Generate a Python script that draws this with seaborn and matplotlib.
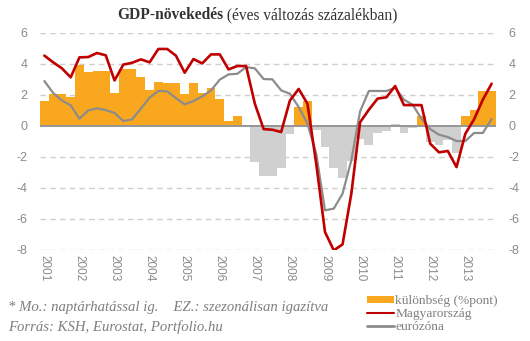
import numpy as np
import pandas as pd
import matplotlib
matplotlib.use("Agg")
import matplotlib.pyplot as plt
import seaborn as sns
from matplotlib.patches import Patch
from matplotlib.lines import Line2D

# ---- data (quarterly, 2001Q1 .. 2013Q4) ----
years = [str(y) for y in range(2001, 2014)]
quarters = [f"{y}Q{q}" for y in range(2001, 2014) for q in range(1, 5)]

diff = [1.57, 2.02, 2.02, 1.83, 3.89, 3.44, 3.50, 3.50, 2.09, 3.63, 3.63, 3.12,
        2.28, 2.80, 2.73, 2.73, 2.02, 2.73, 2.09, 2.41, 1.70, 0.28, 0.60, 0.00,
        -2.34, -3.25, -3.25, -2.73, -0.54, 1.18, 1.57, -0.28, -1.38, -2.73, -3.38, -2.28,
        -0.86, -1.25, -0.47, -0.34, 0.09, -0.47, -0.15, 0.65, -1.05, -1.25, -0.92, -1.76,
        0.60, 0.99, 2.22, 2.22]

hungary = [4.52, 4.09, 3.70, 3.12, 4.41, 4.43, 4.69, 4.54, 2.92, 3.94, 4.06, 4.28,
           4.09, 4.95, 4.95, 4.52, 3.42, 4.30, 4.02, 4.60, 4.60, 3.63, 3.85, 3.85,
           1.42, -0.22, -0.26, -0.41, 1.63, 2.37, 1.42, -2.45, -6.86, -8.04, -7.66, -4.39,
           0.22, 1.03, 1.75, 1.83, 2.56, 1.33, 1.33, 1.33, -1.16, -1.72, -1.63, -2.67,
           -0.52, 0.41, 1.68, 2.71]

eurozone = [2.88, 2.11, 1.63, 1.31, 0.45, 0.99, 1.12, 1.01, 0.82, 0.30, 0.41, 1.10,
            1.81, 2.24, 2.22, 1.78, 1.38, 1.59, 1.89, 2.28, 2.97, 3.31, 3.35, 3.78,
            3.70, 3.01, 2.99, 2.28, 2.06, 1.20, 0.13, -1.81, -5.46, -5.35, -4.39, -2.24,
            0.92, 2.24, 2.24, 2.24, 2.45, 1.68, 1.35, 0.45, -0.22, -0.58, -0.73, -0.99,
            -0.99, -0.47, -0.47, 0.43]

yticks = [6, 4, 2, 0, -2, -4, -6, -8]

title_bold = "GDP-növekedés"
title_rest = " (éves változás százalékban)"
note1 = "* Mo.: naptárhatással ig.    EZ.: szezonálisan igazítva"
note2 = "Forrás: KSH, Eurostat, Portfolio.hu"
leg_labels = ["különbség (%pont)", "Magyarország", "eurózóna"]

ORANGE = "#F8A71E"
LGRAY = "#D0D0D0"
RED = "#C00000"
GLINE = "#8C8C8C"
TXT = "#7F7F7F"

df = pd.DataFrame({"q": quarters, "diff": diff, "hu": hungary, "ez": eurozone})
df["pos"] = np.arange(len(df))
df["sign"] = np.where(df["diff"] > 0.15, "pos", "neg")

sns.set_theme(style="white")
plt.rcParams["font.family"] = ["Liberation Sans", "DejaVu Sans"]

W, H = 530, 341
fig = plt.figure(figsize=(W / 100, H / 100), dpi=100)
ax = fig.add_axes([40 / W, (H - 249.7) / H, (496 - 40) / W, (249.7 - 32.7) / H])

sns.barplot(data=df, x="q", y="diff", hue="sign", order=quarters,
            palette={"pos": ORANGE, "neg": LGRAY}, dodge=False, width=1.0,
            saturation=1, linewidth=0, legend=False, ax=ax, zorder=2)
sns.lineplot(data=df, x="pos", y="ez", color=GLINE, linewidth=1.6, ax=ax, zorder=4)
sns.lineplot(data=df, x="pos", y="hu", color=RED, linewidth=1.9, ax=ax, zorder=5)

ax.set_xlim(-0.5, len(df) - 0.5)
ax.set_ylim(-8, 6)
ax.set_yticks(yticks)
for yv in yticks:
    if yv != 0:
        ax.axhline(yv, color="#CFCFCF", lw=1.0, ls=(0, (4, 3)), zorder=1)
ax.axhline(0, color="#969696", lw=1.4, zorder=3)

for s in ax.spines.values():
    s.set_visible(False)
ax.set_xlabel("")
ax.set_ylabel("")
ax.tick_params(axis="both", length=0)
ax.set_yticklabels([str(v) for v in yticks], color="#8A8A8A", fontsize=9)
ax.tick_params(axis="y", pad=9, labelleft=True, labelright=True)
ax.set_xticks(np.arange(0, len(df), 4))
ax.set_xticklabels(years, rotation=-90, color="#8A8A8A", fontsize=8.5, ha="center", va="top")
ax.tick_params(axis="x", pad=4)

# title
serif = ["Liberation Serif", "DejaVu Serif"]
t1 = fig.text(0.5, 1 - 15 / H, title_bold, fontsize=11.2, fontweight="bold",
              family=serif, color="#333333", ha="right", va="center")
fig.canvas.draw()
bb1 = t1.get_window_extent()
t2 = fig.text(0.5, 1 - 15 / H, title_rest, fontsize=11.2, family=serif,
              color="#333333", ha="left", va="center")
bb2 = t2.get_window_extent()
total = bb1.width + bb2.width
start = 257 - total / 2
t1.set_position(((start + bb1.width) / W, 1 - 15 / H))
t2.set_position(((start + bb1.width) / W, 1 - 15 / H))

# notes
fig.text(8 / W, 1 - 307 / H, note1, fontsize=10.6, family=serif, style="italic",
         color=TXT, ha="left", va="center")
fig.text(8 / W, 1 - 327 / H, note2, fontsize=10.6, family=serif, style="italic",
         color=TXT, ha="left", va="center")

handles = [Patch(facecolor=ORANGE, edgecolor="none"),
           Line2D([], [], color=RED, lw=1.5),
           Line2D([], [], color=GLINE, lw=2.0)]
leg = fig.legend(handles, leg_labels, loc="upper left",
                 bbox_to_anchor=(367 / W, 1 - 295 / H), frameon=False,
                 prop={"family": serif, "size": 9.6}, labelcolor=TXT,
                 handlelength=2.0, handleheight=0.45, handletextpad=0.12,
                 labelspacing=0.08, borderaxespad=0, borderpad=0)

fig.savefig("out.png", dpi=100)
